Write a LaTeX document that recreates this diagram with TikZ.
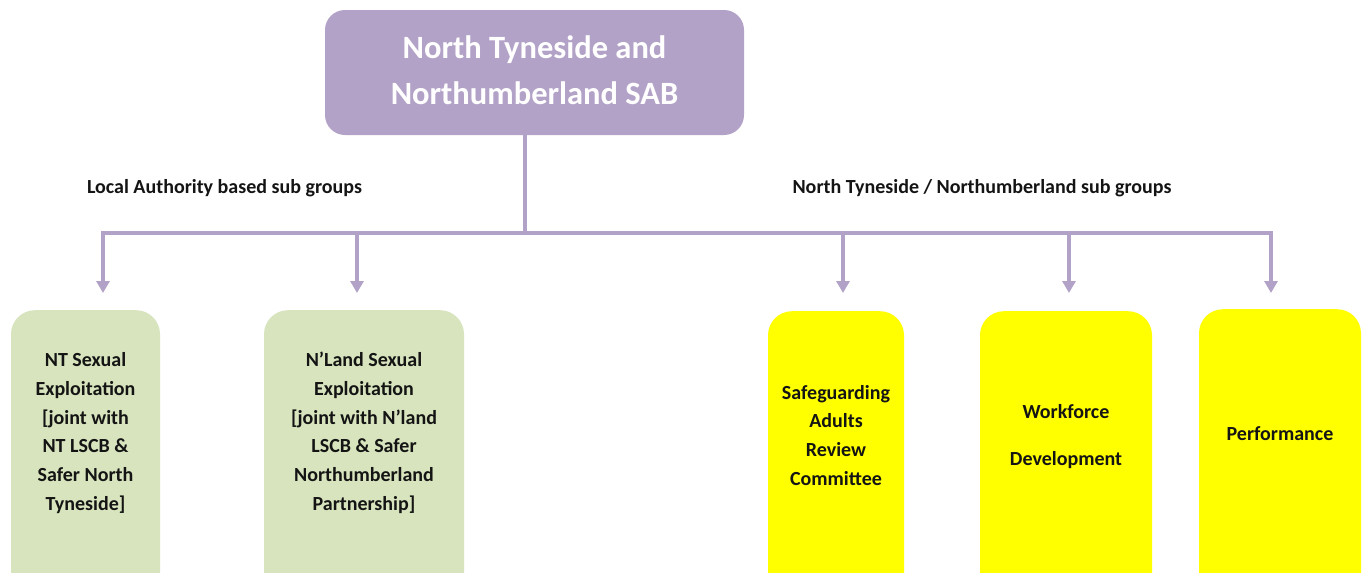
\documentclass[tikz,border=0pt]{standalone}
\usepackage{fontspec}
\setmainfont{Carlito}
\usepackage{tikz}
\usetikzlibrary{positioning,arrows.meta}

\definecolor{sabpurple}{HTML}{B3A2C7}
\definecolor{subgreen}{HTML}{D7E4BD}
\definecolor{subyellow}{HTML}{FFFF00}
\definecolor{subtext}{HTML}{141414}

\begin{document}
\begin{tikzpicture}[x=1pt,y=-1pt,
  link/.style={draw=sabpurple, line width=4pt},
  arrow/.style={link, -{Triangle[width=13pt,length=12pt]}},
  subbox/.style={rounded corners=24pt, anchor=north, align=center,
    text height=14pt, text depth=300pt, text=subtext,
    font=\fontsize{20}{28.7}\selectfont\bfseries},
  greenbox/.style={subbox, fill=subgreen},
  yellowbox/.style={subbox, fill=subyellow},
  grouplabel/.style={text=subtext, font=\fontsize{20}{24}\selectfont\bfseries}]
\clip (0,0) rectangle (1363,573);
\fill[white] (0,0) rectangle (1363,573);
% board
\node[fill=sabpurple, rounded corners=20pt, minimum width=419pt, minimum height=125pt,
  align=center, text=white, text depth=5pt, font=\fontsize{32.5}{46}\selectfont\bfseries]
  (node_sab) at (534.5,72.5) {North Tyneside and\\Northumberland SAB};
% group headings
\node[grouplabel] (node_local) at (224.5,188) {Local Authority based sub groups};
\node[grouplabel] (node_joint) at (982,188) {North Tyneside / Northumberland sub groups};
% sub groups
\node[greenbox, minimum width=149pt, inner ysep=186pt] (node_nt) at (85.5,310)
  {NT Sexual\\Exploitation\\{[joint} with\\NT LSCB \&\\Safer North\\Tyneside]};
\node[greenbox, minimum width=200pt, inner ysep=186pt] (node_nland) at (364,310)
  {N'Land Sexual\\Exploitation\\{[joint} with N'land\\LSCB \& Safer\\Northumberland\\Partnership]};
\node[yellowbox, minimum width=136pt, inner ysep=160pt] (node_sarc) at (836,311)
  {Safeguarding\\Adults\\Review\\Committee};
\node[yellowbox, minimum width=172pt, inner ysep=140pt] (node_wfd) at (1066,311)
  {Workforce\\[18pt]Development};
\node[yellowbox, minimum width=162pt, inner ysep=117pt] (node_perf) at (1280,309)
  {Performance};
% connectors
\coordinate (node_bus) at (525,233);
\foreach \i/\x in {1/103,2/357,3/843,4/1069,5/1271} {
  \coordinate (node_a\i) at (\x,233);
  \coordinate (node_e\i) at (\x,293);
}
\draw[link] (node_bus |- node_sab.south) -- (node_bus);
\draw[link, line cap=rect] (node_a1) -- (node_a5);
\foreach \i in {1,...,5}
  \draw[arrow] (node_a\i) -- (node_e\i);
\end{tikzpicture}
\end{document}
